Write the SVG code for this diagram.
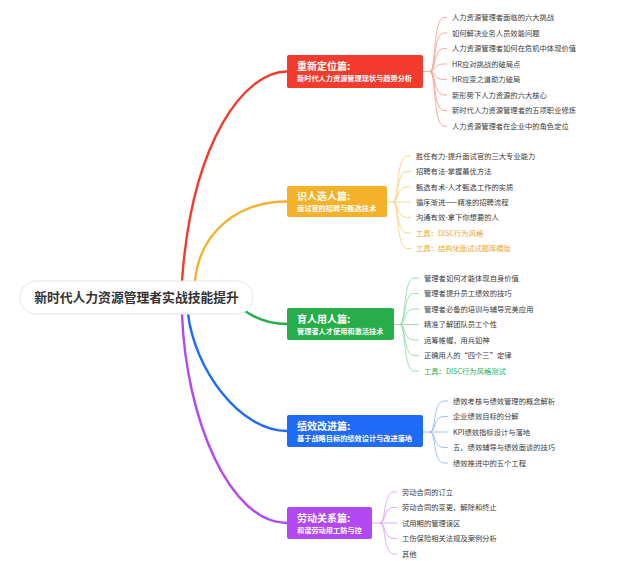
<svg xmlns="http://www.w3.org/2000/svg" width="632" height="561" viewBox="0 0 632 561">
<style>
text{font-family:"Noto Sans CJK SC","Noto Sans",sans-serif}
.leaf{font-size:7.3px;fill:#3a3a3a}
.ttl{font-size:10px;font-weight:bold;fill:#fff}
.sub{font-size:7.2px;font-weight:bold;fill:#fff}
.main{fill:none;stroke-width:2.4;stroke-linecap:round}
.lk{fill:none;stroke-width:0.9}
.r{stroke:#f8a196}.y{stroke:#f9d382}.g{stroke:#95dba5}.b{stroke:#95b7fa}.p{stroke:#d9a2f8}
</style>
<rect width="632" height="561" fill="#fff"/>
<g id="connectors">
<path class="main" stroke="#f33b2d" d="M182,281 C192,140 245,71.5 287,71.5"/>
<path class="main" stroke="#f5b12a" d="M195,281 C200,230 240,201.5 287,201.5"/>
<path class="main" stroke="#27ae4a" d="M245,311 C258,320 270,324 287,324"/>
<path class="main" stroke="#1f6bf6" d="M188,314 C195,370 240,431 287,431"/>
<path class="main" stroke="#b347f2" d="M182,314 C186,420 230,523 287,523"/>
<g class="lk r">
<path d="M423,71.5 L430,71.5"/>
<path d="M430,71.5 C436,71.5 433,17.5 444,17.5 L447,17.5"/>
<path d="M430,71.5 C436,71.5 433,33 444,33 L447,33"/>
<path d="M430,71.5 C436,71.5 433,48.5 444,48.5 L447,48.5"/>
<path d="M430,71.5 C436,71.5 433,64 444,64 L447,64"/>
<path d="M430,71.5 C436,71.5 433,79.5 444,79.5 L447,79.5"/>
<path d="M430,71.5 C436,71.5 433,95 444,95 L447,95"/>
<path d="M430,71.5 C436,71.5 433,110.5 444,110.5 L447,110.5"/>
<path d="M430,71.5 C436,71.5 433,126 444,126 L447,126"/>
</g>
<g class="lk y">
<path d="M387,202 L393,202"/>
<path d="M393,202 C399,202 396,156 407,156 L411,156"/>
<path d="M393,202 C399,202 396,171.5 407,171.5 L411,171.5"/>
<path d="M393,202 C399,202 396,187 407,187 L411,187"/>
<path d="M393,202 L411,202"/>
<path d="M393,202 C399,202 396,217.5 407,217.5 L411,217.5"/>
<path d="M393,202 C399,202 396,233 407,233 L411,233"/>
<path d="M393,202 C399,202 396,248.5 407,248.5 L411,248.5"/>
</g>
<g class="lk g">
<path d="M394,324.5 L400,324.5"/>
<path d="M400,324.5 C406,324.5 403,278 414,278 L419,278"/>
<path d="M400,324.5 C406,324.5 403,293.5 414,293.5 L419,293.5"/>
<path d="M400,324.5 C406,324.5 403,309 414,309 L419,309"/>
<path d="M400,324.5 L419,324.5"/>
<path d="M400,324.5 C406,324.5 403,340 414,340 L419,340"/>
<path d="M400,324.5 C406,324.5 403,355.5 414,355.5 L419,355.5"/>
<path d="M400,324.5 C406,324.5 403,371 414,371 L419,371"/>
</g>
<g class="lk b">
<path d="M423,432 L430,432"/>
<path d="M430,432 C436,432 433,401 444,401 L448,401"/>
<path d="M430,432 C436,432 433,416.5 444,416.5 L448,416.5"/>
<path d="M430,432 L448,432"/>
<path d="M430,432 C436,432 433,447.5 444,447.5 L448,447.5"/>
<path d="M430,432 C436,432 433,463 444,463 L448,463"/>
</g>
<g class="lk p">
<path d="M372,523 L380,523"/>
<path d="M380,523 C386,523 383,492 394,492 L397,492"/>
<path d="M380,523 C386,523 383,507.5 394,507.5 L397,507.5"/>
<path d="M380,523 L397,523"/>
<path d="M380,523 C386,523 383,538.5 394,538.5 L397,538.5"/>
<path d="M380,523 C386,523 383,554 394,554 L397,554"/>
</g>
</g>
<g id="root">
<rect x="20" y="281" width="233" height="33" rx="16.5" fill="#fff" stroke="#e4e4e4" stroke-width="1"/>
<text x="136.5" y="302" text-anchor="middle" font-size="12.8" font-weight="bold" fill="#333">新时代人力资源管理者实战技能提升</text>
</g>
<g id="node-red">
<rect x="287" y="55" width="136" height="33" rx="2" fill="#f33b2d"/>
<text class="ttl" x="297" y="70">重新定位篇:</text>
<text class="sub" x="297" y="80.5">新时代人力资源管理现状与趋势分析</text>
</g>
<g id="node-yellow">
<rect x="287" y="186" width="100" height="31" rx="2" fill="#f5b12a"/>
<text class="ttl" x="297" y="200">识人选人篇:</text>
<text class="sub" x="297" y="210.5">面试官的招聘与甄选技术</text>
</g>
<g id="node-green">
<rect x="287" y="308" width="107" height="32" rx="2" fill="#27ae4a"/>
<text class="ttl" x="297" y="323">育人用人篇:</text>
<text class="sub" x="297" y="333.5">管理者人才使用和激活技术</text>
</g>
<g id="node-blue">
<rect x="287" y="415" width="136" height="32" rx="2" fill="#1f6bf6"/>
<text class="ttl" x="297" y="430">绩效改进篇:</text>
<text class="sub" x="297" y="440.5">基于战略目标的绩效设计与改进落地</text>
</g>
<g id="node-purple">
<rect x="287" y="507" width="85" height="32" rx="2" fill="#b347f2"/>
<text class="ttl" x="297" y="522">劳动关系篇:</text>
<text class="sub" x="297" y="532.5">和谐劳动用工防与控</text>
</g>
<g id="leaves-red">
<text class="leaf" x="452" y="20.2">人力资源管理者面临的六大挑战</text>
<text class="leaf" x="452" y="35.7">如何解决业务人员效能问题</text>
<text class="leaf" x="452" y="51.2">人力资源管理者如何在危机中体现价值</text>
<text class="leaf" x="452" y="66.7">HR应对挑战的破局点</text>
<text class="leaf" x="452" y="82.2">HR应变之道助力破局</text>
<text class="leaf" x="452" y="97.7">新形势下人力资源的六大核心</text>
<text class="leaf" x="452" y="113.2">新时代人力资源管理者的五项职业修炼</text>
<text class="leaf" x="452" y="128.7">人力资源管理者在企业中的角色定位</text>
</g>
<g id="leaves-yellow">
<text class="leaf" x="416" y="158.7">胜任有力-提升面试官的三大专业能力</text>
<text class="leaf" x="416" y="174.2">招聘有法-掌握最优方法</text>
<text class="leaf" x="416" y="189.7">甄选有术-人才甄选工作的实质</text>
<text class="leaf" x="416" y="204.7">循序渐进——精准的招聘流程</text>
<text class="leaf" x="416" y="220.2">沟通有效-拿下你想要的人</text>
<text class="leaf" x="416" y="235.7" style="fill:#f5a623">工具：DISC行为风格</text>
<text class="leaf" x="416" y="251.2" style="fill:#f5a623">工具：结构化面试试题库模版</text>
</g>
<g id="leaves-green">
<text class="leaf" x="424" y="280.7">管理者如何才能体现自身价值</text>
<text class="leaf" x="424" y="296.2">管理者提升员工绩效的技巧</text>
<text class="leaf" x="424" y="311.7">管理者必备的培训与辅导完美应用</text>
<text class="leaf" x="424" y="327.2">精准了解团队员工个性</text>
<text class="leaf" x="424" y="342.7">运筹帷幄，用兵如神</text>
<text class="leaf" x="424" y="358.2">正确用人的“四个三”定律</text>
<text class="leaf" x="424" y="373.7" style="fill:#2bb04c">工具：DISC行为风格测试</text>
</g>
<g id="leaves-blue">
<text class="leaf" x="453" y="403.7">绩效考核与绩效管理的概念解析</text>
<text class="leaf" x="453" y="419.2">企业绩效目标的分解</text>
<text class="leaf" x="453" y="434.7">KPI绩效指标设计与落地</text>
<text class="leaf" x="453" y="450.2">五、绩效辅导与绩效面谈的技巧</text>
<text class="leaf" x="453" y="465.7">绩效推进中的五个工程</text>
</g>
<g id="leaves-purple">
<text class="leaf" x="402" y="494.7">劳动合同的订立</text>
<text class="leaf" x="402" y="510.2">劳动合同的变更、解除和终止</text>
<text class="leaf" x="402" y="525.7">试用期的管理误区</text>
<text class="leaf" x="402" y="541.2">工伤保险相关法规及案例分析</text>
<text class="leaf" x="402" y="556.7">其他</text>
</g>
</svg>
